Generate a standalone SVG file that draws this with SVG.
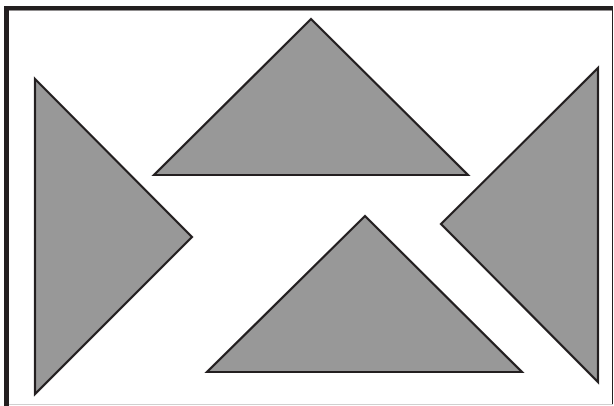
<svg xmlns="http://www.w3.org/2000/svg" width="614" height="406" viewBox="0 0 614 406">
<style>
.tri{fill:#989898;stroke:#231f20;stroke-width:2.2;stroke-linejoin:miter}
</style>
<rect width="614" height="406" fill="#fff"/>
<g id="frame">
<rect x="4" y="6" width="5" height="400" fill="#231f20"/>
<rect x="4" y="6" width="609" height="4.5" fill="#231f20"/>
<line x1="612.5" y1="10" x2="612.5" y2="404" stroke="#231f20" stroke-width="1"/>
<line x1="9" y1="404.5" x2="613" y2="404.5" stroke="#d0d0d0" stroke-width="1"/>
</g>
<g id="tri-left"><polygon class="tri" points="35,79 192,237 35,394"/></g>
<g id="tri-top"><polygon class="tri" points="311,19 468,175 154,175"/></g>
<g id="tri-right"><polygon class="tri" points="598,68 598,382 441,224"/></g>
<g id="tri-bottom"><polygon class="tri" points="365,216 522,372 207,372"/></g>
</svg>
